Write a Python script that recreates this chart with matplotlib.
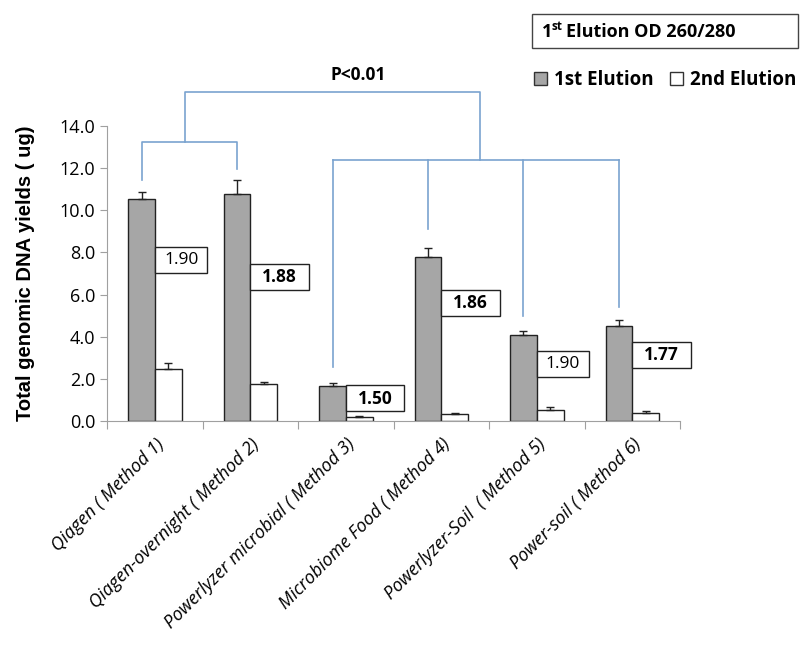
import numpy as np
import matplotlib
matplotlib.use("Agg")
import matplotlib.pyplot as plt
from matplotlib.patches import Rectangle, Patch

# data
methods = ['Qiagen ( Method 1)', 'Qiagen-overnight ( Method 2)', 'Powerlyzer microbial ( Method 3)',
           'Microbiome Food ( Method 4)', 'Powerlyzer-Soil  ( Method 5)', 'Power-soil ( Method 6)']
first_elution = [10.54, 10.77, 1.69, 7.80, 4.08, 4.51]
first_err = [0.30, 0.67, 0.14, 0.41, 0.18, 0.28]
second_elution = [2.45, 1.76, 0.20, 0.36, 0.55, 0.41]
second_err = [0.33, 0.11, 0.03, 0.05, 0.10, 0.08]
od_ratio = ['1.90', '1.88', '1.50', '1.86', '1.90', '1.77']
od_bold = [False, True, True, True, False, True]
od_box_y = [7.02, 6.22, 0.47, 4.98, 2.09, 2.52]
yticks = [0, 2, 4, 6, 8, 10, 12, 14]

blue = '#7aa3cf'
x = np.arange(len(methods))
w = 0.28

fig = plt.figure(figsize=(8, 6.45), dpi=100)
ax = fig.add_axes([0.134, 0.347, 0.716, 0.458])

ax.bar(x - w/2, first_elution, w, color='#a6a6a6', edgecolor='#222222', linewidth=1,
       yerr=[np.zeros(6), first_err], error_kw=dict(ecolor='#222222', elinewidth=1, capsize=3, capthick=1))
ax.bar(x + w/2, second_elution, w, color='white', edgecolor='#222222', linewidth=1,
       yerr=[np.zeros(6), second_err], error_kw=dict(ecolor='#222222', elinewidth=1, capsize=3, capthick=1))

# OD 260/280 boxes
for i in range(6):
    bw = 0.55 if not od_bold[i] else 0.61
    ax.add_patch(Rectangle((i, od_box_y[i]), bw, 1.24, facecolor='white', edgecolor='#222222',
                           linewidth=1, zorder=4, clip_on=False))
    ax.text(i + bw/2, od_box_y[i] + 0.6, od_ratio[i], ha='center', va='center', fontsize=12.5,
            fontweight='bold' if od_bold[i] else 'normal', family='Open Sans', zorder=5)

# significance brackets
gx = x - w/2
leg_ends = [11.44, 11.96, 2.56, 9.11, 4.98, 5.41]
ax.plot([gx[0], gx[0], gx[1], gx[1]], [leg_ends[0], 13.21, 13.21, leg_ends[1]], color=blue, lw=1.2, clip_on=False)
for i in range(2, 6):
    ax.plot([gx[i], gx[i]], [leg_ends[i], 12.39], color=blue, lw=1.2, clip_on=False)
ax.plot([gx[2], gx[5]], [12.39, 12.39], color=blue, lw=1.2, clip_on=False)
left_mid = (gx[0] + gx[1]) / 2 - 0.05
right_mid = (gx[2] + gx[5]) / 2 + 0.05
ax.plot([left_mid, left_mid, right_mid, right_mid], [13.21, 15.61, 15.61, 12.39], color=blue, lw=1.2, clip_on=False)
ax.text(2.13, 16.4, 'P<0.01', ha='center', va='center', fontsize=12.5, fontweight='bold', family='Open Sans')

ax.set_xlim(-0.5, 5.5)
ax.set_ylim(0, 14)
ax.set_yticks(yticks)
ax.set_yticklabels(['%.1f' % v for v in yticks], fontsize=13, family='Open Sans')
ax.set_xticks(np.arange(-0.5, 6, 1))
ax.set_xticklabels([])
ax.set_xticks(x, minor=True)
ax.set_xticklabels(methods, minor=True, rotation=45, ha='right', rotation_mode='anchor',
                   fontsize=13, style='italic', family='Open Sans')
ax.tick_params(axis='x', which='minor', length=0, pad=10)
ax.tick_params(axis='x', which='major', length=6, color='#a0a0a0')
ax.tick_params(axis='y', length=5, color='#a0a0a0')
for s in ['top', 'right']:
    ax.spines[s].set_visible(False)
ax.spines['left'].set_color('#a0a0a0')
ax.spines['bottom'].set_color('#a0a0a0')
ax.set_ylabel('Total genomic DNA yields ( ug)', fontsize=14.5, fontweight='bold', family='Liberation Sans', labelpad=18)

# OD title box
fig.patches.append(Rectangle((532/800, 1 - 48/645), 266/800, 34/645, transform=fig.transFigure,
                             facecolor='white', edgecolor='#444444', linewidth=1))
fig.text(542/800, 1 - 32/645, '1', fontsize=13, fontweight='bold', family='Open Sans', va='center')
fig.text(551/800, 1 - 26/645, 'st', fontsize=8.5, fontweight='bold', family='Open Sans', va='center')
fig.text(566/800, 1 - 32/645, 'Elution OD 260/280', fontsize=13, fontweight='bold', family='Open Sans', va='center')

handles = [Patch(facecolor='#a6a6a6', edgecolor='#333333', label='1st Elution'),
           Patch(facecolor='white', edgecolor='#333333', label='2nd Elution')]
fig.legend(handles=handles, loc='center', bbox_to_anchor=(665/800, 1 - 80/645), ncol=2, frameon=False,
           prop=dict(family='Open Sans', weight='bold', size=13.5), handlelength=0.7, handleheight=0.7,
           handletextpad=0.35, columnspacing=0.9, borderpad=0, borderaxespad=0)

fig.savefig('out.png', dpi=100)
